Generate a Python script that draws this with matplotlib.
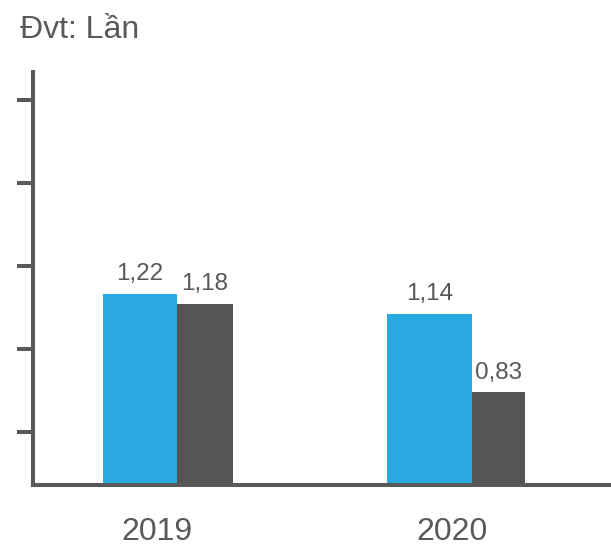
import matplotlib
matplotlib.use("Agg")
import matplotlib.pyplot as plt
import numpy as np

plt.rcParams['font.family'] = ['Liberation Sans', 'DejaVu Sans']

years = ["2019", "2020"]
series_a = [1.22, 1.14]
series_b = [1.18, 0.83]
labels_a = ["1,22", "1,14"]
labels_b = ["1,18", "0,83"]

blue = "#29a9e1"
dark = "#555555"
txt = "#595959"

fig = plt.figure(figsize=(6.11, 5.47), dpi=100)
ax = fig.add_axes([0.054, 0.1133, 0.946, 0.755])

x = np.arange(len(years))
joint = x + 0.067
wa = [0.25, 0.285]
wb = [0.19, 0.183]

ax.bar(joint, series_a, width=[-w for w in wa], align='edge', color=blue)
ax.bar(joint, series_b, width=wb, align='edge', color=dark)

for i in range(len(years)):
    ax.annotate(labels_a[i], (joint[i] - wa[i] / 2, series_a[i]), xytext=(0, 6),
                textcoords='offset points', ha='center', va='bottom',
                fontsize=17.5, color=txt)
    ax.annotate(labels_b[i], (joint[i] + wb[i] / 2, series_b[i]), xytext=(0, 6),
                textcoords='offset points', ha='center', va='bottom',
                fontsize=17.5, color=txt)

ax.set_xlim(-0.42, 1.54)
ax.set_ylim(0.46, 2.10)
ax.set_xticks(x)
ax.set_xticklabels(years, fontsize=23, color=txt)
ax.set_yticks([0.67, 1.0, 1.33, 1.66, 1.99])
ax.set_yticklabels([])
ax.tick_params(axis='x', length=0, pad=23)
ax.tick_params(axis='y', direction='out', length=11.5, width=2.9, color=txt)

for s in ['top', 'right']:
    ax.spines[s].set_visible(False)
for s in ['left', 'bottom']:
    ax.spines[s].set_linewidth(2.9)
    ax.spines[s].set_color(txt)

fig.text(20 / 611, 1 - 30 / 547, "Đvt: Lần", fontsize=23, color=txt,
         ha='left', va='center')

fig.savefig("out.png", dpi=100)
